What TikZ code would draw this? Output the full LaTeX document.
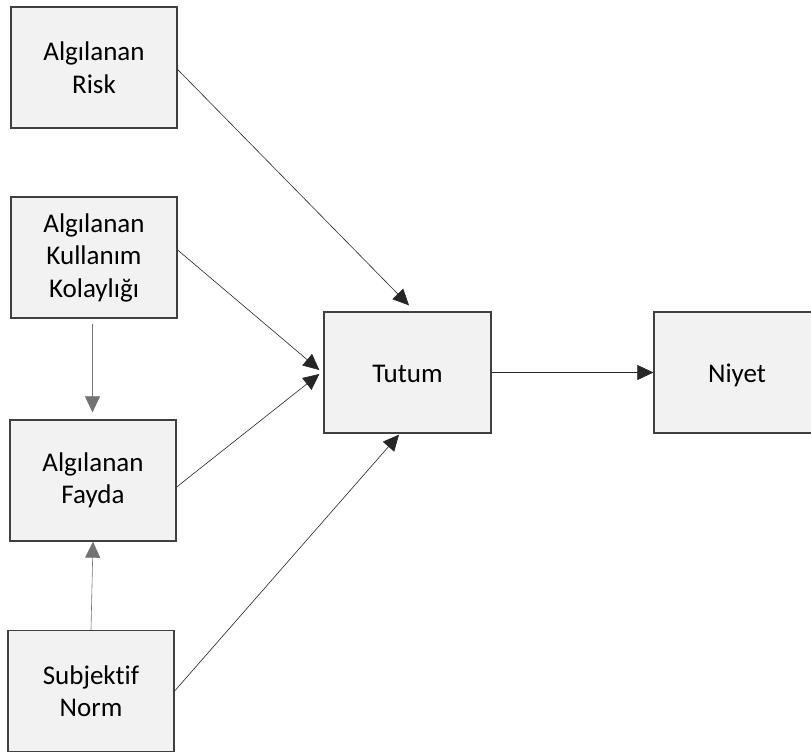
\documentclass[tikz,border=0pt]{standalone}
\usepackage{fontspec}
\setmainfont{Carlito}[Ligatures=NoCommon]
\usetikzlibrary{arrows.meta,calc}
\definecolor{boxfill}{HTML}{F2F2F2}
\definecolor{boxline}{HTML}{404040}
\begin{document}
\begin{tikzpicture}[x=1pt,y=-1pt,
  box/.style={draw=boxline,line width=1.3pt,fill=boxfill,minimum width=166pt,minimum height=121pt,inner sep=0pt,align=center,font=\fontsize{27}{32.5}\selectfont},
  single/.style={text height=20pt,text depth=1pt},
  conn/.style={draw=black!85,line width=0.6pt,-{Triangle[length=16pt,width=15pt]}}]
\useasboundingbox (0,0) rectangle (811,753);
\node[box] (risk) at (94,67.5) {Algılanan\\Risk};
\node[box] (kol) at (94,257.5) {Algılanan\\Kullanım\\Kolaylığı};
\node[box] (fayda) at (93,480.5) {Algılanan\\Fayda};
\node[box] (subj) at (91,691) {Subjektif\\Norm};
\node[box,single,minimum width=167pt] (tutum) at (407.5,372.5) {Tutum};
\node[box,single] (niyet) at (737,372.5) {Niyet};
\draw[conn] ($(risk.east)+(0,2)$) -- ($(tutum.north)+(1.5,-6)$);
\draw[conn] ($(kol.east)+(0,-7.5)$) -- ($(tutum.west)+(-4,-2.5)$);
\draw[conn] ($(fayda.east)+(0,6.5)$) -- ($(tutum.west)+(-4,1.5)$);
\draw[conn] (subj.east) -- ($(tutum.south)+(-8.5,1)$);
\draw[conn] (tutum.east) -- (niyet.west);
\draw[conn,draw=black!55] ($(kol.south)+(-1.5,5)$) -- ($(fayda.north)+(-0.5,-7)$);
\draw[conn,draw=black!55] (subj.north) -- (fayda.south);
\end{tikzpicture}
\end{document}
